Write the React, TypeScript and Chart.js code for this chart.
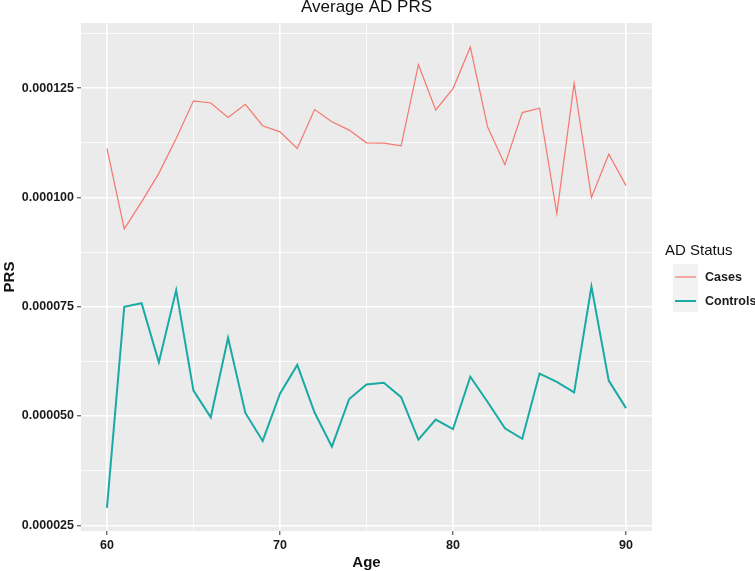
import React, { useEffect, useRef } from "react";
import { Chart, registerables } from "chart.js";

Chart.register(...registerables);

const ages = [60, 61, 62, 63, 64, 65, 66, 67, 68, 69, 70, 71, 72, 73, 74, 75, 76, 77, 78, 79, 80, 81, 82, 83, 84, 85, 86, 87, 88, 89, 90];
const cases = [
  0.0001112, 0.0000928, 0.0000990, 0.0001055, 0.0001135, 0.0001221, 0.0001216, 0.0001183, 0.0001213, 0.0001164,
  0.0001150, 0.0001112, 0.0001201, 0.0001173, 0.0001154, 0.0001125, 0.0001124, 0.0001118, 0.0001304, 0.0001200,
  0.0001249, 0.0001344, 0.0001161, 0.0001075, 0.0001194, 0.0001204, 0.0000963, 0.0001261, 0.0001000, 0.0001099,
  0.0001027,
];
const controls = [
  0.0000290, 0.0000750, 0.0000758, 0.0000623, 0.0000788, 0.0000558, 0.0000497, 0.0000679, 0.0000507, 0.0000443,
  0.0000551, 0.0000617, 0.0000508, 0.0000430, 0.0000539, 0.0000572, 0.0000576, 0.0000543, 0.0000446, 0.0000492,
  0.0000470, 0.0000590, 0.0000532, 0.0000472, 0.0000448, 0.0000597, 0.0000578, 0.0000554, 0.0000796, 0.0000581,
  0.0000518,
];
const seriesNames = ["Cases", "Controls"];
const seriesColors = ["#F4786F", "#1AAAA4"];
const xTicks = [60, 65, 70, 75, 80, 85, 90];
const xMajor = [60, 70, 80, 90];
const yTicks = [0.000025, 0.0000375, 0.00005, 0.0000625, 0.000075, 0.0000875, 0.0001, 0.0001125, 0.000125, 0.0001375];
const yMajor = [0.000025, 0.00005, 0.000075, 0.0001, 0.000125];
const titleText = "Average AD PRS";
const xTitle = "Age";
const yTitle = "PRS";
const legendTitle = "AD Status";

const isMajor = (v: number, list: number[]) => list.some((m) => Math.abs(m - v) < 1e-9);
const FONT = "'Liberation Sans', Arial, sans-serif";

export default function App() {
  const ref = useRef<HTMLCanvasElement | null>(null);
  useEffect(() => {
    if (!ref.current) return;
    const decor = {
      id: "decor",
      beforeDraw(chart: any) {
        const { ctx, chartArea } = chart;
        ctx.save();
        ctx.fillStyle = "#ffffff";
        ctx.fillRect(0, 0, chart.width, chart.height);
        ctx.fillStyle = "#EBEBEB";
        ctx.fillRect(chartArea.left, chartArea.top, chartArea.right - chartArea.left, chartArea.bottom - chartArea.top);
        ctx.restore();
      },
      afterDraw(chart: any) {
        const { ctx, chartArea } = chart;
        ctx.save();
        ctx.fillStyle = "#111111";
        ctx.textAlign = "center";
        ctx.textBaseline = "middle";
        ctx.font = `17px ${FONT}`;
        ctx.fillText(titleText, (chartArea.left + chartArea.right) / 2, 7);
        ctx.font = `bold 15px ${FONT}`;
        ctx.fillText(xTitle, (chartArea.left + chartArea.right) / 2, 563);
        ctx.save();
        ctx.translate(10, (chartArea.top + chartArea.bottom) / 2);
        ctx.rotate(-Math.PI / 2);
        ctx.fillText(yTitle, 0, 0);
        ctx.restore();
        // legend
        ctx.textAlign = "left";
        ctx.font = `15px ${FONT}`;
        ctx.fillText(legendTitle, 665, 251);
        ctx.fillStyle = "#F2F2F2";
        ctx.fillRect(673, 264, 25, 48);
        ctx.font = `bold 12.5px ${FONT}`;
        seriesNames.forEach((n, i) => {
          const y = 277 + i * 24;
          ctx.strokeStyle = seriesColors[i];
          ctx.lineWidth = i === 0 ? 1.2 : 2;
          ctx.beginPath();
          ctx.moveTo(675, y);
          ctx.lineTo(696, y);
          ctx.stroke();
          ctx.fillStyle = "#1a1a1a";
          ctx.fillText(n, 705, y + 1);
        });
        ctx.restore();
      },
    };
    const chart = new Chart(ref.current, {
      type: "line",
      data: {
        labels: ages,
        datasets: [
          {
            label: seriesNames[0],
            data: ages.map((a, i) => ({ x: a, y: cases[i] })),
            borderColor: seriesColors[0],
            borderWidth: 1.2,
            pointRadius: 0,
            tension: 0,
            fill: false,
          },
          {
            label: seriesNames[1],
            data: ages.map((a, i) => ({ x: a, y: controls[i] })),
            borderColor: seriesColors[1],
            borderWidth: 2,
            pointRadius: 0,
            tension: 0,
            fill: false,
          },
        ],
      },
      options: {
        responsive: false,
        animation: false,
        layout: { padding: { top: 23, right: 103, bottom: 0, left: 0 } },
        plugins: { legend: { display: false }, title: { display: false }, tooltip: { enabled: false } },
        scales: {
          x: {
            type: "linear",
            min: 58.5,
            max: 91.5,
            afterBuildTicks(scale: any) {
              scale.ticks = xTicks.map((v) => ({ value: v }));
            },
            afterFit(scale: any) {
              scale.height = 40;
            },
            border: { display: false },
            grid: {
              color: "#ffffff",
              lineWidth: (c: any) => (isMajor(c.tick?.value, xMajor) ? 1.6 : 0.8),
              tickColor: (c: any) => (isMajor(c.tick?.value, xMajor) ? "#333333" : "rgba(0,0,0,0)"),
              tickLength: 4,
              tickWidth: 1,
            },
            ticks: {
              autoSkip: false,
              maxRotation: 0,
              padding: 3,
              color: "#1a1a1a",
              font: { family: FONT, size: 12.5, weight: "bold" },
              callback: (v: any) => (isMajor(Number(v), xMajor) ? String(v) : ""),
            },
          },
          y: {
            type: "linear",
            min: 0.0000237,
            max: 0.0001399,
            afterBuildTicks(scale: any) {
              scale.ticks = yTicks.map((v) => ({ value: v }));
            },
            afterFit(scale: any) {
              scale.width = 81;
            },
            border: { display: false },
            grid: {
              color: "#ffffff",
              lineWidth: (c: any) => (isMajor(c.tick?.value, yMajor) ? 1.6 : 0.8),
              tickColor: (c: any) => (isMajor(c.tick?.value, yMajor) ? "#333333" : "rgba(0,0,0,0)"),
              tickLength: 4,
              tickWidth: 1,
            },
            ticks: {
              autoSkip: false,
              padding: 3,
              color: "#1a1a1a",
              font: { family: FONT, size: 12.5, weight: "bold" },
              callback: (v: any) => (isMajor(Number(v), yMajor) ? Number(v).toFixed(6) : ""),
            },
          },
        },
      },
      plugins: [decor],
    });
    return () => chart.destroy();
  }, []);
  return (
    <div style={{ position: "fixed", left: 0, top: 0, width: 755, height: 571, background: "#fff" }}>
      <canvas ref={ref} width={755} height={571} style={{ width: 755, height: 571, display: "block" }} />
    </div>
  );
}
